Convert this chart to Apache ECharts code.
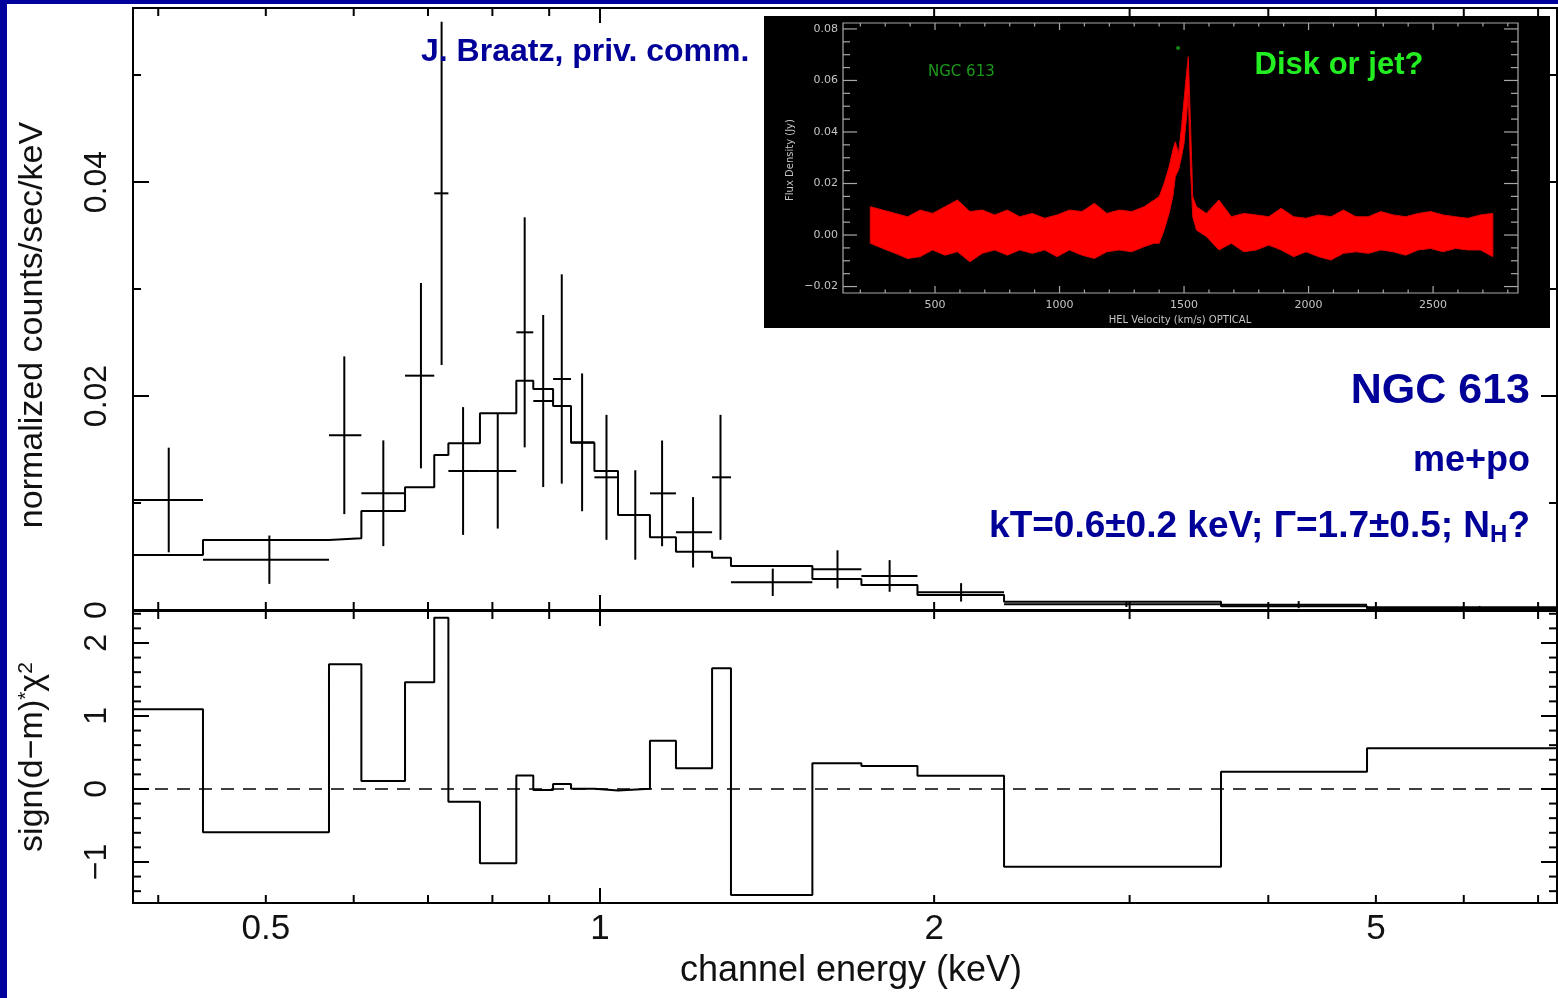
<!DOCTYPE html>
<html>
<head>
<meta charset="utf-8">
<title>NGC 613 spectrum</title>
<script src="https://cdn.jsdelivr.net/npm/echarts@6/dist/echarts.min.js"></script>
<style>
  html, body { margin: 0; padding: 0; width: 1558px; height: 998px; overflow: hidden; background: #00009c; }
  #chart { position: absolute; left: 7px; top: 4px; width: 1551px; height: 994px; background: #fff; }
</style>
</head>
<body>
<div id="chart"></div>
<script>
// ---- X-ray spectrum: channel bins (keV) ----
const binLo  = [0.3795, 0.4389, 0.5700, 0.6096, 0.6674, 0.7091, 0.7302, 0.7796, 0.8407, 0.8708, 0.9073, 0.9417,
                0.9885, 1.0381, 1.1092, 1.1707, 1.2618, 1.3122, 1.5536, 1.7199, 1.9320, 2.3121, 3.6263, 4.9091]
const binHi  = [0.4389, 0.5700, 0.6096, 0.6674, 0.7091, 0.7302, 0.7796, 0.8407, 0.8708, 0.9073, 0.9417, 0.9885,
                1.0381, 1.1092, 1.1707, 1.2618, 1.3122, 1.5536, 1.7199, 1.9320, 2.3121, 3.6263, 4.9091, 8.0]
const binMid = [0.4088, 0.5037, 0.5884, 0.6380, 0.6898, 0.7200, 0.7528, 0.8089, 0.8554, 0.8889, 0.9238, 0.9636,
                1.0136, 1.0760, 1.1375, 1.2130, 1.2840, 1.4310, 1.6367, 1.8236, 2.115, 2.98, 4.26, 6.2]
// normalized counts/sec/keV and 1-sigma errors
const counts    = [0.01028, 0.00470, 0.01633, 0.01091, 0.02190, 0.03894, 0.01299, 0.01299, 0.02595, 0.01953, 0.02159, 0.01567,
                   0.01240, 0.00888, 0.01090, 0.00726, 0.01240, 0.00259, 0.00380, 0.00318, 0.00165, 0.00053, 0.00050, 0.00025]
const countsErr = [0.00489, 0.00226, 0.00737, 0.00494, 0.00866, 0.01604, 0.00597, 0.00538, 0.01075, 0.00804, 0.00978, 0.00644,
                   0.00584, 0.00418, 0.00494, 0.00329, 0.00584, 0.00128, 0.00178, 0.00148, 0.00086, 0.00025, 0.00033, 0.00013]
// me+po model
const model = [0.00514, 0.00654, 0.00670, 0.00925, 0.01147, 0.01449, 0.01558, 0.01838, 0.02143, 0.02065, 0.01907, 0.01564,
               0.01299, 0.00888, 0.00679, 0.00545, 0.00489, 0.00411, 0.00290, 0.00234, 0.00140, 0.00078, 0.00034, 0.00015]
// sign(d-m)*chi^2
const resid = [1.092, -0.593, 1.708, 0.110, 1.461, 2.347, -0.174, -1.018, 0.183, -0.014, 0.068, 0.004,
               -0.020, 0.002, 0.662, 0.283, 1.653, -1.452, 0.352, 0.315, 0.182, -1.064, 0.237, 0.557]

// tick marks / labels
const eMajorTicks = [1]
const eMinorTicks = [0.4, 0.5, 0.6, 0.7, 0.8, 0.9, 2, 3, 4, 5, 6, 7]
const eLabels = [0.5, 1, 2, 5]
const cMajorTicks = [0.02, 0.04]
const cMinorTicks = [0.01, 0.03, 0.05]
const cLabels = [[0, '0'], [0.02, '0.02'], [0.04, '0.04']]
const rMajorTicks = [-1, 0, 1, 2]
const rMinorTicks = [-1.4, -1.2, -0.8, -0.6, -0.4, -0.2, 0.2, 0.4, 0.6, 0.8, 1.2, 1.4, 1.6, 1.8, 2.2, 2.4]
const rLabels = [[-1, '\u22121'], [0, '0'], [1, '1'], [2, '2']]

// ---- inset: radio (maser) spectrum, flux density (Jy) vs velocity (km/s) ----
const insetVel = [240, 290, 340, 390, 440, 490, 540, 590, 640, 690, 740, 790, 840, 890, 940, 990, 1040, 1090, 1140, 1190, 1240,
                  1290, 1340, 1380, 1400, 1420, 1440, 1455, 1465, 1478, 1490, 1500, 1510, 1517, 1525, 1535, 1550, 1590,
                  1640, 1690, 1740, 1790, 1840, 1890, 1940, 1990, 2040, 2090, 2140, 2190, 2240, 2290, 2340, 2390, 2440,
                  2490, 2540, 2590, 2640, 2690, 2740]
const insetUpper = [0.0110, 0.0097, 0.0084, 0.0071, 0.0097, 0.0084, 0.0110, 0.0136, 0.0091, 0.0097, 0.0078, 0.0097, 0.0071,
                    0.0084, 0.0065, 0.0078, 0.0097, 0.0091, 0.0123, 0.0084, 0.0097, 0.0091, 0.0110, 0.0136, 0.0149, 0.0201,
                    0.0265, 0.0330, 0.0362, 0.0317, 0.0421, 0.0524, 0.0628, 0.0692, 0.0459, 0.0149, 0.0110, 0.0084,
                    0.0136, 0.0071, 0.0084, 0.0078, 0.0071, 0.0104, 0.0071, 0.0065, 0.0078, 0.0071, 0.0097, 0.0071,
                    0.0071, 0.0091, 0.0078, 0.0071, 0.0084, 0.0091, 0.0078, 0.0071, 0.0065, 0.0078, 0.0084]
const insetLower = [-0.0032, -0.0052, -0.0071, -0.0091, -0.0084, -0.0058, -0.0078, -0.0065, -0.0104, -0.0071, -0.0058, -0.0078,
                    -0.0058, -0.0071, -0.0058, -0.0084, -0.0058, -0.0078, -0.0091, -0.0065, -0.0058, -0.0065, -0.0045,
                    -0.0032, -0.0032, 0.0019, 0.0084, 0.0149, 0.0227, 0.0253, 0.0304, 0.0356, 0.0459, 0.0550, 0.0278,
                    0.0071, 0.0019, -0.0006, -0.0058, -0.0032, -0.0065, -0.0058, -0.0039, -0.0058, -0.0084, -0.0065,
                    -0.0084, -0.0097, -0.0071, -0.0065, -0.0071, -0.0058, -0.0065, -0.0078, -0.0058, -0.0052, -0.0065,
                    -0.0052, -0.0058, -0.0058, -0.0084]
const insetMarker = [[1476, 0.0726]]
const vMajorTicks = [500, 1000, 1500, 2000, 2500]
const vMinorTicks = [200, 300, 400, 600, 700, 800, 900, 1100, 1200, 1300, 1400, 1600, 1700, 1800, 1900, 2100, 2200, 2300, 2400, 2600, 2700, 2800]
const fMajorTicks = [-0.02, 0, 0.02, 0.04, 0.06, 0.08]
const fMinorTicks = [-0.015, -0.01, -0.005, 0.005, 0.01, 0.015, 0.025, 0.03, 0.035, 0.045, 0.05, 0.055, 0.065, 0.07, 0.075]
const fLabels = [[-0.02, '\u22120.02'], [0, '0.00'], [0.02, '0.02'], [0.04, '0.04'], [0.06, '0.06'], [0.08, '0.08']]

// axis ranges
const E_MIN = 0.3796, E_MAX = 7.28
const C_MIN = 0, C_MAX = 0.05626
const R_MIN = -1.562, R_MAX = 2.438
const V_MIN = 130.5, V_MAX = 2841
const F_MIN = -0.0225, F_MAX = 0.0823

const FONT = 'Liberation Sans'
const BLUE = '#000099'

// ---- helpers ----
function tickSpecs(xMaj, xMin, yMaj, yMin, ext, len) {
  const s = []
  const [x0, x1, y0, y1] = ext
  xMaj.forEach(v => { s.push([v, y1, 0, len[0]], [v, y0, 0, -len[0]]) })
  xMin.forEach(v => { s.push([v, y1, 0, len[1]], [v, y0, 0, -len[1]]) })
  yMaj.forEach(v => { s.push([x0, v, len[2], 0], [x1, v, -len[2], 0]) })
  yMin.forEach(v => { s.push([x0, v, len[3], 0], [x1, v, -len[3], 0]) })
  return s
}

function tickSeries(grid, specs, color, width, z) {
  return {
    type: 'custom', xAxisIndex: grid, yAxisIndex: grid, z, silent: true, clip: false,
    encode: { x: 0, y: 1 },
    data: specs,
    renderItem: (params, api) => {
      const p = api.coord([api.value(0), api.value(1)])
      return {
        type: 'line',
        shape: { x1: p[0], y1: p[1], x2: p[0] + api.value(2), y2: p[1] + api.value(3) },
        style: { stroke: color, lineWidth: width }
      }
    }
  }
}

function labelSeries(grid, items, style, z) {
  return {
    type: 'custom', xAxisIndex: grid, yAxisIndex: grid, z, silent: true, clip: false,
    encode: { x: 0, y: 1 },
    data: items.map(d => [d.x, d.y]),
    renderItem: (params, api) => {
      const d = items[params.dataIndex]
      const p = api.coord([d.x, d.y])
      return {
        type: 'text', x: p[0] + d.dx, y: p[1] + d.dy, rotation: d.rot || 0,
        style: Object.assign({ text: d.text, align: d.align || 'center', verticalAlign: 'middle' }, style)
      }
    }
  }
}

// frame of a grid drawn through its own scales
function frameSeries(grid, ext, color, width, z) {
  return {
    type: 'custom', xAxisIndex: grid, yAxisIndex: grid, z, silent: true, clip: false,
    encode: { x: 0, y: 1 },
    data: [[ext[0], ext[2]]],
    renderItem: (params, api) => {
      const a = api.coord([ext[0], ext[3]])
      const b = api.coord([ext[1], ext[2]])
      return {
        type: 'rect', shape: { x: a[0], y: a[1], width: b[0] - a[0], height: b[1] - a[1] },
        style: { fill: 'none', stroke: color, lineWidth: width }
      }
    }
  }
}

const modelPts = []
const residPts = []
binLo.forEach((lo, i) => {
  modelPts.push([lo, model[i]], [binHi[i], model[i]])
  residPts.push([lo, resid[i]], [binHi[i], resid[i]])
})

const mainTicks0 = tickSpecs(eMajorTicks, eMinorTicks, cMajorTicks, cMinorTicks, [E_MIN, E_MAX, C_MIN, C_MAX], [15, 8, 16, 8])
const mainTicks1 = tickSpecs(eMajorTicks, eMinorTicks, rMajorTicks, rMinorTicks, [E_MIN, E_MAX, R_MIN, R_MAX], [15, 8, 16, 8])
const insetTicks = tickSpecs(vMajorTicks, vMinorTicks, fMajorTicks, fMinorTicks, [V_MIN, V_MAX, F_MIN, F_MAX], [7, 3.5, 14, 7])

const labelStyle = { fontFamily: FONT, fontSize: 32, fill: '#111' }
const xLabelItems = eLabels.map(v => ({ x: v, y: R_MIN, dx: 0, dy: 26, text: String(v) }))
const cLabelItems = cLabels.map(([v, t]) => ({ x: E_MIN, y: v, dx: -36, dy: 0, rot: Math.PI / 2, text: t }))
const rLabelItems = rLabels.map(([v, t]) => ({ x: E_MIN, y: v, dx: -36, dy: 0, rot: Math.PI / 2, text: t }))
const insetStyle = { fontFamily: 'DejaVu Sans', fontSize: 11, fill: '#c4c4c4' }
const vLabelItems = vMajorTicks.map(v => ({ x: v, y: F_MIN, dx: 0, dy: 12, text: String(v) }))
const fLabelItems = fLabels.map(([v, t]) => ({ x: V_MIN, y: v, dx: -5, dy: 0, align: 'right', text: t }))

const chart = echarts.init(document.getElementById('chart'))

chart.setOption({
  animation: false,
  grid: [
    { left: 126, top: 4, width: 1424, height: 602, show: true, borderColor: '#000', borderWidth: 2, backgroundColor: 'transparent' },
    { left: 126, top: 607, width: 1424, height: 292, show: true, borderColor: '#000', borderWidth: 2, backgroundColor: 'transparent' },
    { left: 836, top: 19, width: 675, height: 270, show: false }
  ],
  xAxis: [
    { gridIndex: 0, type: 'log', min: E_MIN, max: E_MAX, show: false },
    { gridIndex: 1, type: 'log', min: E_MIN, max: E_MAX, show: false },
    { gridIndex: 2, type: 'value', min: V_MIN, max: V_MAX, show: false }
  ],
  yAxis: [
    { gridIndex: 0, type: 'value', min: C_MIN, max: C_MAX, show: false },
    { gridIndex: 1, type: 'value', min: R_MIN, max: R_MAX, show: false },
    { gridIndex: 2, type: 'value', min: F_MIN, max: F_MAX, show: false }
  ],
  graphic: [
    { type: 'rect', z: 3, shape: { x: 757, y: 12, width: 786, height: 312 }, style: { fill: '#000' } },
    { type: 'text', z: 10, x: 414, y: 48,
      style: { text: 'J. Braatz, priv. comm.', fill: BLUE, fontFamily: FONT, fontWeight: 'bold', fontSize: 32, align: 'left', verticalAlign: 'middle' } },
    { type: 'text', z: 10, x: 1332, y: 61,
      style: { text: 'Disk or jet?', fill: '#22ee22', fontFamily: FONT, fontWeight: 'bold', fontSize: 31, align: 'center', verticalAlign: 'middle' } },
    { type: 'text', z: 10, x: 1523, y: 387,
      style: { text: 'NGC 613', fill: BLUE, fontFamily: FONT, fontWeight: 'bold', fontSize: 43, align: 'right', verticalAlign: 'middle' } },
    { type: 'text', z: 10, x: 1523, y: 457,
      style: { text: 'me+po', fill: BLUE, fontFamily: FONT, fontWeight: 'bold', fontSize: 36, align: 'right', verticalAlign: 'middle' } },
    { type: 'text', z: 10, x: 1523, y: 523,
      style: {
        text: 'kT=0.6\u00b10.2 keV; \u0393=1.7\u00b10.5; N{sub|H}?', fill: BLUE, fontFamily: FONT, fontWeight: 'bold', fontSize: 37,
        align: 'right', verticalAlign: 'middle',
        rich: { sub: { fontFamily: FONT, fontWeight: 'bold', fontSize: 24, fill: BLUE, verticalAlign: 'bottom', padding: [16, 0, 0, 0] } }
      } },
    { type: 'text', z: 10, x: 26, y: 321, rotation: Math.PI / 2,
      style: { text: 'normalized counts/sec/keV', fill: '#111', fontFamily: FONT, fontSize: 34, align: 'center', verticalAlign: 'middle' } },
    { type: 'text', z: 10, x: 26, y: 753, rotation: Math.PI / 2,
      style: {
        text: 'sign(d\u2212m){sup|*}\u03c7{sup|2}', fill: '#111', fontFamily: FONT, fontSize: 34, align: 'center', verticalAlign: 'middle',
        rich: { sup: { fontFamily: FONT, fontSize: 21, fill: '#111', verticalAlign: 'top', padding: [0, 0, 14, 0] } }
      } },
    { type: 'text', z: 10, x: 844, y: 967,
      style: { text: 'channel energy (keV)', fill: '#111', fontFamily: FONT, fontSize: 36, align: 'center', verticalAlign: 'middle' } },
    { type: 'text', z: 10, x: 783, y: 156, rotation: Math.PI / 2,
      style: { text: 'Flux Density (Jy)', fill: '#c4c4c4', fontFamily: 'DejaVu Sans', fontSize: 10, align: 'center', verticalAlign: 'middle' } },
    { type: 'text', z: 10, x: 1173, y: 316,
      style: { text: 'HEL Velocity (km/s) OPTICAL', fill: '#c4c4c4', fontFamily: 'DejaVu Sans', fontSize: 10, align: 'center', verticalAlign: 'middle' } },
    { type: 'text', z: 10, x: 921, y: 68,
      style: { text: 'NGC 613', fill: '#1b9a1b', fontFamily: 'DejaVu Sans', fontSize: 15, align: 'left', verticalAlign: 'middle' } }
  ],
  series: [
    // data crosses
    {
      type: 'custom', xAxisIndex: 0, yAxisIndex: 0, z: 2, clip: true, silent: true,
      encode: { x: [0, 1, 2], y: 3 },
      data: binLo.map((lo, i) => [lo, binHi[i], binMid[i], counts[i], countsErr[i]]),
      renderItem: (params, api) => {
        const v = api.value(3), e = api.value(4)
        const a = api.coord([api.value(0), v])
        const b = api.coord([api.value(1), v])
        const t = api.coord([api.value(2), v + e])
        const u = api.coord([api.value(2), v - e])
        return {
          type: 'group',
          children: [
            { type: 'line', shape: { x1: a[0], y1: a[1], x2: b[0], y2: b[1] }, style: { stroke: '#000', lineWidth: 2 } },
            { type: 'line', shape: { x1: t[0], y1: t[1], x2: u[0], y2: u[1] }, style: { stroke: '#000', lineWidth: 2 } }
          ]
        }
      }
    },
    // model
    {
      type: 'line', xAxisIndex: 0, yAxisIndex: 0, z: 2, data: modelPts, symbol: 'none', clip: true, silent: true,
      lineStyle: { color: '#000', width: 2 }
    },
    // residuals
    {
      type: 'line', xAxisIndex: 1, yAxisIndex: 1, z: 2, data: residPts, symbol: 'none', clip: true, silent: true,
      lineStyle: { color: '#000', width: 2 },
      markLine: {
        silent: true, symbol: 'none', label: { show: false },
        lineStyle: { color: '#000', width: 1.5, type: [13, 9] },
        data: [{ yAxis: 0 }]
      }
    },
    tickSeries(0, mainTicks0, '#000', 2, 2),
    tickSeries(1, mainTicks1, '#000', 2, 2),
    labelSeries(1, xLabelItems, Object.assign({}, labelStyle, { fontSize: 35 }), 2),
    labelSeries(0, cLabelItems, labelStyle, 2),
    labelSeries(1, rLabelItems, labelStyle, 2),
    // inset band of the radio spectrum
    {
      type: 'custom', xAxisIndex: 2, yAxisIndex: 2, z: 5, clip: true, silent: true,
      encode: { x: 0, y: [1, 2] },
      data: insetVel.map((v, i) => [v, insetUpper[i], insetLower[i]]),
      renderItem: (params, api) => {
        if (params.dataIndex !== 0) return null
        const pts = insetVel.map((v, i) => api.coord([v, insetUpper[i]]))
        for (let i = insetVel.length - 1; i >= 0; i--) pts.push(api.coord([insetVel[i], insetLower[i]]))
        return { type: 'polygon', shape: { points: pts }, style: { fill: '#ff0000', stroke: '#e00000', lineWidth: 1 } }
      }
    },
    {
      type: 'scatter', xAxisIndex: 2, yAxisIndex: 2, z: 5, data: insetMarker, symbolSize: 4, silent: true,
      itemStyle: { color: '#1ea51e' }
    },
    frameSeries(2, [V_MIN, V_MAX, F_MIN, F_MAX], '#a8a8a8', 1.2, 4),
    tickSeries(2, insetTicks, '#a8a8a8', 1.2, 4),
    labelSeries(2, vLabelItems, insetStyle, 4),
    labelSeries(2, fLabelItems, insetStyle, 4)
  ]
})
</script>
</body>
</html>
